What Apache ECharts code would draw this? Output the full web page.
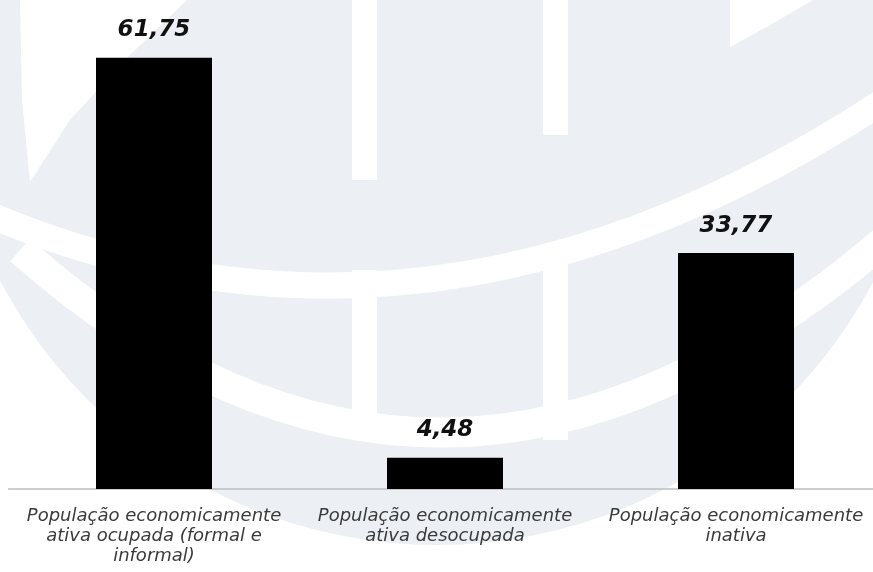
<!DOCTYPE html>
<html>
<head>
<meta charset="utf-8">
<script src="https://cdn.jsdelivr.net/npm/echarts@6/dist/echarts.min.js"></script>
<style>
  html, body { margin: 0; padding: 0; background: #ffffff; overflow: hidden; width: 873px; height: 572px; }
  #chart { width: 890px; height: 572px; }
</style>
</head>
<body>
<div id="chart"></div>
<script>
// Data
var categories = [
  'População economicamente\nativa ocupada (formal e\ninformal)',
  'População economicamente\nativa desocupada',
  'População economicamente\ninativa'
];
var values = [61.75, 4.48, 33.77];
var yMax = 70;

var light = '#eceff3';
var watermark = [
  { type: 'circle', shape: { cx: 437, cy: 52, r: 493 }, style: { fill: light } },
  // left meridian gap of the cap
  { type: 'polygon', shape: { points: [[20, 0], [187, 0], [130, 55], [70, 120], [30, 182], [22, 100]] }, style: { fill: '#ffffff' } },
  // top-right wedge
  { type: 'polygon', shape: { points: [[730, 0], [813, 0], [770, 25], [730, 47]] }, style: { fill: '#ffffff' } },
  // vertical meridian stripes
  { type: 'rect', shape: { x: 352, y: 0, width: 25, height: 180 }, style: { fill: '#ffffff' } },
  { type: 'rect', shape: { x: 543, y: 0, width: 25, height: 135 }, style: { fill: '#ffffff' } },
  { type: 'rect', shape: { x: 352, y: 270, width: 25, height: 170 }, style: { fill: '#ffffff' } },
  { type: 'rect', shape: { x: 543, y: 250, width: 25, height: 190 }, style: { fill: '#ffffff' } },
  // upper latitude band
  { type: 'bezierCurve', shape: { x1: -10, y1: 215, x2: 885, y2: 100, cpx1: 430, cpy1: 400 }, style: { stroke: '#ffffff', lineWidth: 26, fill: null } },
  // lower latitude band
  { type: 'bezierCurve', shape: { x1: 20, y1: 250, x2: 885, y2: 240, cpx1: 440, cpy1: 620 }, style: { stroke: '#ffffff', lineWidth: 30, fill: null } },
  // clear area beyond the visible page edge
  { type: 'rect', shape: { x: 873, y: 0, width: 40, height: 572 }, style: { fill: '#ffffff' } }
];
watermark.forEach(function (g) { g.z = -10; g.silent = true; });

var chart = echarts.init(document.getElementById('chart'), null, { renderer: 'canvas' });
chart.setOption({
  animation: false,
  backgroundColor: '#ffffff',
  graphic: { elements: watermark },
  grid: { left: 8.5, width: 873, top: 0, bottom: 83, containLabel: false },
  xAxis: {
    type: 'category',
    data: categories,
    axisLine: { show: true, lineStyle: { color: '#bfbfbf', width: 1.5 } },
    axisTick: { show: false },
    axisLabel: {
      interval: 0,
      margin: 17,
      fontFamily: 'DejaVu Sans',
      fontStyle: 'italic',
      fontSize: 18,
      lineHeight: 20,
      color: '#3a3a3a',
      align: 'center'
    }
  },
  yAxis: {
    type: 'value',
    min: 0,
    max: yMax,
    show: false,
    splitLine: { show: false }
  },
  series: [{
    type: 'bar',
    data: values,
    barWidth: 116,
    itemStyle: { color: '#000000' },
    label: {
      show: true,
      position: 'top',
      distance: 16,
      fontFamily: 'DejaVu Sans',
      fontStyle: 'italic',
      fontWeight: 'bold',
      fontSize: 23,
      color: '#111111',
      formatter: function (p) { return p.value.toFixed(2).replace('.', ','); }
    }
  }]
});
</script>
</body>
</html>
